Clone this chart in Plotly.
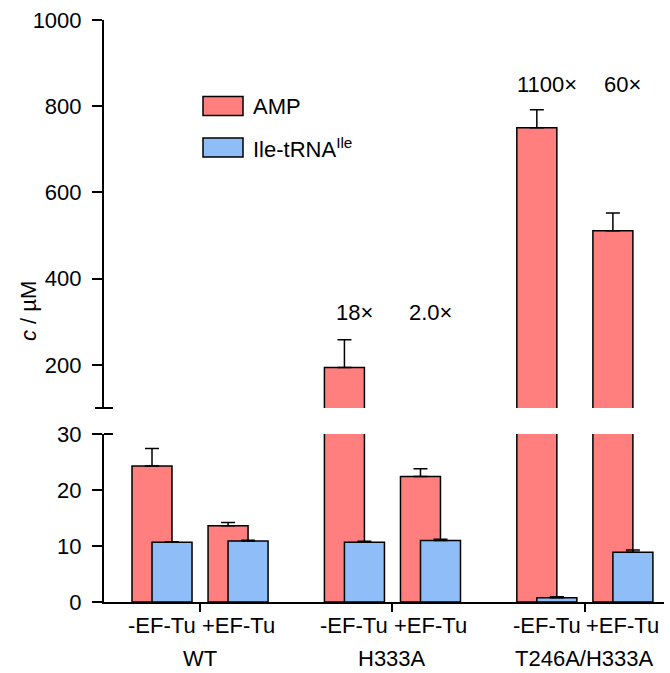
import plotly.graph_objects as go

groups = ["WT", "H333A", "T246A/H333A"]
conditions = ["-EF-Tu", "+EF-Tu"]
amp = [24.3, 13.6, 194, 22.4, 750, 511]
amp_err = [3.1, 0.6, 64, 1.4, 42, 41]
ile = [10.66, 10.9, 10.66, 11.0, 0.75, 8.9]
ile_err = [0.12, 0.12, 0.2, 0.2, 0.2, 0.4]
ratios = ["2.3×", "1.3×", "18×", "2.0×", "1100×", "60×"]
lower_ticks = [0, 10, 20, 30]
upper_ticks = [200, 400, 600, 800, 1000]

RED = "#FF7F7F"
BLUE = "#8FBDF8"
FONT = "Liberation Sans, Arial, sans-serif"
FS = 22
G = 2.53     # spacing between groups
BW = 0.526   # bar width
OFF = 0.1316 # half-offset of the two bars

centers = []
for gi in range(len(groups)):
    for ci in range(len(conditions)):
        centers.append(gi * G + ci)
x_red = [c - OFF for c in centers]
x_blue = [c + OFF for c in centers]

fig = go.Figure()
line = dict(color="black", width=1.5)
for yax in ("y", "y2"):
    if yax == "y":
        e_red = [e if v < 30 else 0 for v, e in zip(amp, amp_err)]
        e_blue = ile_err
    else:
        e_red = [e if v > 100 else 0 for v, e in zip(amp, amp_err)]
        e_blue = [0] * len(ile)
    fig.add_trace(go.Bar(x=x_red, y=amp, width=BW, yaxis=yax, name="AMP",
                         marker=dict(color=RED, line=line), showlegend=False,
                         hoverinfo="skip",
                         error_y=dict(type="data", symmetric=False, array=e_red,
                                      arrayminus=[0] * 6, color="black",
                                      thickness=1.5, width=7)))
    fig.add_trace(go.Bar(x=x_blue, y=ile, width=BW, yaxis=yax, name="Ile-tRNA",
                         marker=dict(color=BLUE, line=line), showlegend=False,
                         hoverinfo="skip",
                         error_y=dict(type="data", symmetric=False, array=e_blue,
                                      arrayminus=[0] * 6, color="black",
                                      thickness=1.5, width=7)))

tickfont = dict(family=FONT, size=FS, color="black")
xr = [-0.763, 6.6]
fig.update_layout(
    width=670, height=673, margin=dict(l=0, r=0, t=0, b=0, pad=0),
    autosize=False,
    paper_bgcolor="white", plot_bgcolor="white", barmode="overlay",
    xaxis=dict(domain=[0.1552, 0.991], range=xr, anchor="y", automargin=False,
               showline=True, linecolor="black", linewidth=2,
               tickmode="array", tickvals=[0.5, G + 0.5, 2 * G + 0.5],
               showticklabels=False, ticks="outside", ticklen=8, tickwidth=2,
               tickcolor="black", showgrid=False, zeroline=False),
    yaxis=dict(domain=[0.1055, 0.3551], range=[0, 30], anchor="x", automargin=False,
               tickmode="array", tickvals=lower_ticks, ticks="outside",
               ticklen=10, tickwidth=2, tickcolor="black", showline=True,
               linecolor="black", linewidth=2, showgrid=False, zeroline=False,
               tickfont=tickfont, ticklabelstandoff=6),
    yaxis2=dict(domain=[0.3938, 0.9703], range=[100, 1000], anchor="x", automargin=False,
                tickmode="array", tickvals=upper_ticks, ticks="outside",
                ticklen=10, tickwidth=2, tickcolor="black", showline=True,
                linecolor="black", linewidth=2, showgrid=False, zeroline=False,
                tickfont=tickfont, ticklabelstandoff=6),
)

# axis break marks
fig.add_shape(type="line", xref="paper", yref="paper",
              x0=95 / 670, x1=113 / 670, y0=(673 - 408) / 673, y1=(673 - 408) / 673,
              line=dict(color="black", width=2))
fig.add_shape(type="line", xref="paper", yref="paper",
              x0=104 / 670, x1=113 / 670, y0=(673 - 434) / 673, y1=(673 - 434) / 673,
              line=dict(color="black", width=2))

annfont = dict(family=FONT, size=FS, color="black")
# ratio annotations
ratio_y = [("y", 31.6), ("y", 31.6), ("y2", 322), ("y2", 322), ("y2", 851), ("y2", 851)]
for c, t, (ya, yv) in zip(centers, ratios, ratio_y):
    fig.add_annotation(x=c, y=yv, xref="x", yref=ya, text=t, showarrow=False,
                       font=annfont, yanchor="middle")

# category labels
for i, c in enumerate(centers):
    fig.add_annotation(x=c, y=(673 - 625) / 673, xref="x", yref="paper",
                       text=conditions[i % 2], showarrow=False, font=annfont,
                       yanchor="middle")
for gi, g in enumerate(groups):
    fig.add_annotation(x=gi * G + 0.5, y=(673 - 658) / 673, xref="x", yref="paper",
                       text=g, showarrow=False, font=annfont, yanchor="middle")

# y title
fig.add_annotation(x=28 / 670, y=(673 - 311) / 673, xref="paper", yref="paper",
                   text="<i>c</i> / µM", textangle=-90, showarrow=False,
                   font=annfont, xanchor="center", yanchor="middle")

# legend
leg = [("AMP", RED, 106), ("Ile-tRNA<sup>Ile</sup>", BLUE, 147.5)]
for label, col, yc in leg:
    fig.add_shape(type="rect", xref="paper", yref="paper",
                  x0=203 / 670, x1=243 / 670,
                  y0=(673 - yc - 9.5) / 673, y1=(673 - yc + 9.5) / 673,
                  fillcolor=col, line=dict(color="black", width=1.5))
    fig.add_annotation(x=251 / 670, y=(673 - yc) / 673, xref="paper", yref="paper",
                       text=label, showarrow=False, font=annfont,
                       xanchor="left", yanchor="middle")

fig.write_html("out.html", config={"displayModeBar": False, "staticPlot": True},
               post_script="document.body.style.margin='0';document.body.style.padding='0';")
